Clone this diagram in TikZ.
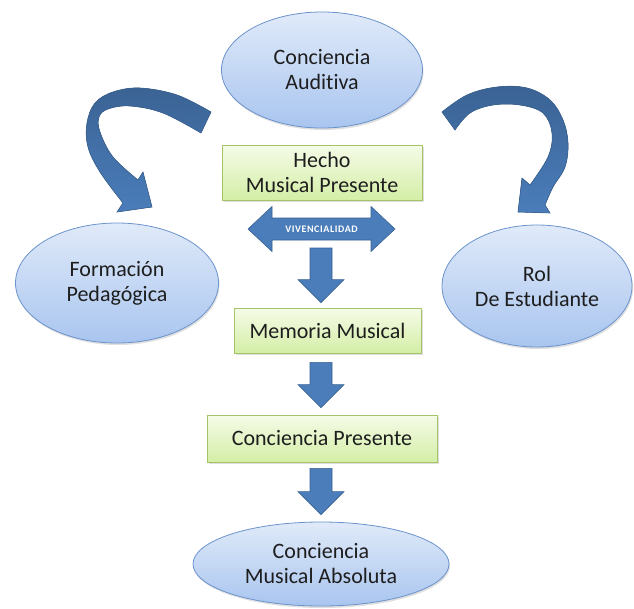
\documentclass[tikz,border=0pt]{standalone}
\usepackage{fontspec}
\setmainfont{Carlito}[Ligatures={NoCommon}]
\usetikzlibrary{shapes.geometric,shadows,calc}
\definecolor{ellDraw}{HTML}{6B93CC}
\definecolor{ellTop}{HTML}{E0EAF9}
\definecolor{ellBot}{HTML}{A9C5EF}
\definecolor{boxDraw}{HTML}{A5C468}
\definecolor{boxTop}{HTML}{F5FBE8}
\definecolor{boxBot}{HTML}{D4EEA6}
\definecolor{arrFill}{HTML}{4A7DBA}
\definecolor{arrDraw}{HTML}{3A6394}
\definecolor{arrDark}{HTML}{3B6394}
\definecolor{txt}{HTML}{1E1E1E}
\newcommand{\DnArrow}[2]{%
  \filldraw[blockarrow] ($(#1)+(-11,0)$) -- ($(#1)+(11,0)$) -- ($(#2)+(11,-23)$) -- ($(#2)+(23,-23)$) -- (#2) -- ($(#2)+(-23,-23)$) -- ($(#2)+(-11,-23)$) -- cycle;}
\begin{document}
\begin{tikzpicture}[x=1pt,y=-1pt,
  ellnode/.style={ellipse, draw=ellDraw, line width=0.8pt, top color=ellTop, bottom color=ellBot,
    inner sep=0pt, align=center, text=txt, font=\fontsize{22}{25}\selectfont,
    drop shadow={opacity=0.25,shadow xshift=1pt,shadow yshift=-2pt}},
  boxnode/.style={rectangle, draw=boxDraw, line width=0.8pt, top color=boxTop, bottom color=boxBot,
    inner sep=0pt, align=center, text=txt, font=\fontsize{22}{25}\selectfont,
    drop shadow={opacity=0.25,shadow xshift=1.5pt,shadow yshift=-2pt}},
  blockarrow/.style={fill=arrFill, draw=arrDraw, line width=0.6pt, line join=miter},
  curvarrow/.style={top color=arrDark, bottom color=arrFill, draw=arrDraw, line width=0.6pt}
]
\useasboundingbox (0,0) rectangle (634,608);

% ellipses
\node[ellnode, minimum width=201pt, minimum height=116pt] (aud) at (322,70) {Conciencia\\Auditiva};
\node[ellnode, minimum width=203pt, minimum height=120pt] (ped) at (117,283) {Formación\\Pedagógica};
\node[ellnode, minimum width=190pt, minimum height=122pt] (rol) at (537,286) {Rol\\De Estudiante};
\node[ellnode, minimum width=256pt, minimum height=84pt] (abs) at (321,564) {Conciencia\\Musical Absoluta};

% boxes
\node[boxnode, minimum width=200pt, minimum height=55pt] (hecho) at (322,172.5) {Hecho\\Musical Presente};
\node[boxnode, minimum width=187pt, minimum height=45pt] (mem) at (327.5,330.5) {Memoria Musical};
\node[boxnode, minimum width=230pt, minimum height=47pt] (pres) at (322,438.5) {Conciencia Presente};

% double arrow
\coordinate (vl) at (248,229);
\coordinate (vr) at (395,229);
\filldraw[blockarrow] (vl) -- ($(vl)+(24,-22.5)$) -- ($(vl)+(24,-11)$) -- ($(vr)+(-24,-11)$) -- ($(vr)+(-24,-22.5)$) -- (vr)
  -- ($(vr)+(-24,22.5)$) -- ($(vr)+(-24,11)$) -- ($(vl)+(24,11)$) -- ($(vl)+(24,22.5)$) -- cycle;
\node[text=white, font=\fontsize{10}{12}\bfseries\addfontfeature{LetterSpace=6}\selectfont] (viv) at ($(vl)!0.5!(vr)$) {VIVENCIALIDAD};

% down arrows
\coordinate (a1s) at (321,248);
\coordinate (a1e) at ($(mem.north)+(-6.5,-5)$);
\DnArrow{a1s}{a1e}
\coordinate (a2s) at ($(mem.south)+(-6.5,9)$);
\coordinate (a2e) at ($(pres.north)+(-1,-7)$);
\DnArrow{a2s}{a2e}
\coordinate (a3s) at ($(pres.south)+(-1,6)$);
\coordinate (a3e) at ($(abs.north)+(0,-7)$);
\DnArrow{a3s}{a3e}

% curved arrows
\filldraw[curvarrow] plot[smooth,tension=0.6] coordinates {(211,112) (177,95) (140,88) (113,92) (95,103) (87,123) (88,147) (100,172) (123,203)}
  -- (117,212) -- (152,207) -- (143,172)
  -- plot[smooth,tension=0.6] coordinates {(138,180) (113,157) (100,132) (99,117) (108,109) (130,106) (163,113) (201,133)} -- cycle;
\filldraw[curvarrow] plot[smooth,tension=0.6] coordinates {(442,112) (467,95) (497,87) (527,88) (550,100) (563,120) (568,143) (565,167) (553,187) (545,205)}
  -- (550,213) -- (518,212) -- (522,178)
  -- plot[smooth,tension=0.6] coordinates {(530,185) (548,157) (552,133) (543,113) (520,105) (493,105) (470,113) (455,130)} -- cycle;
\end{tikzpicture}
\end{document}
